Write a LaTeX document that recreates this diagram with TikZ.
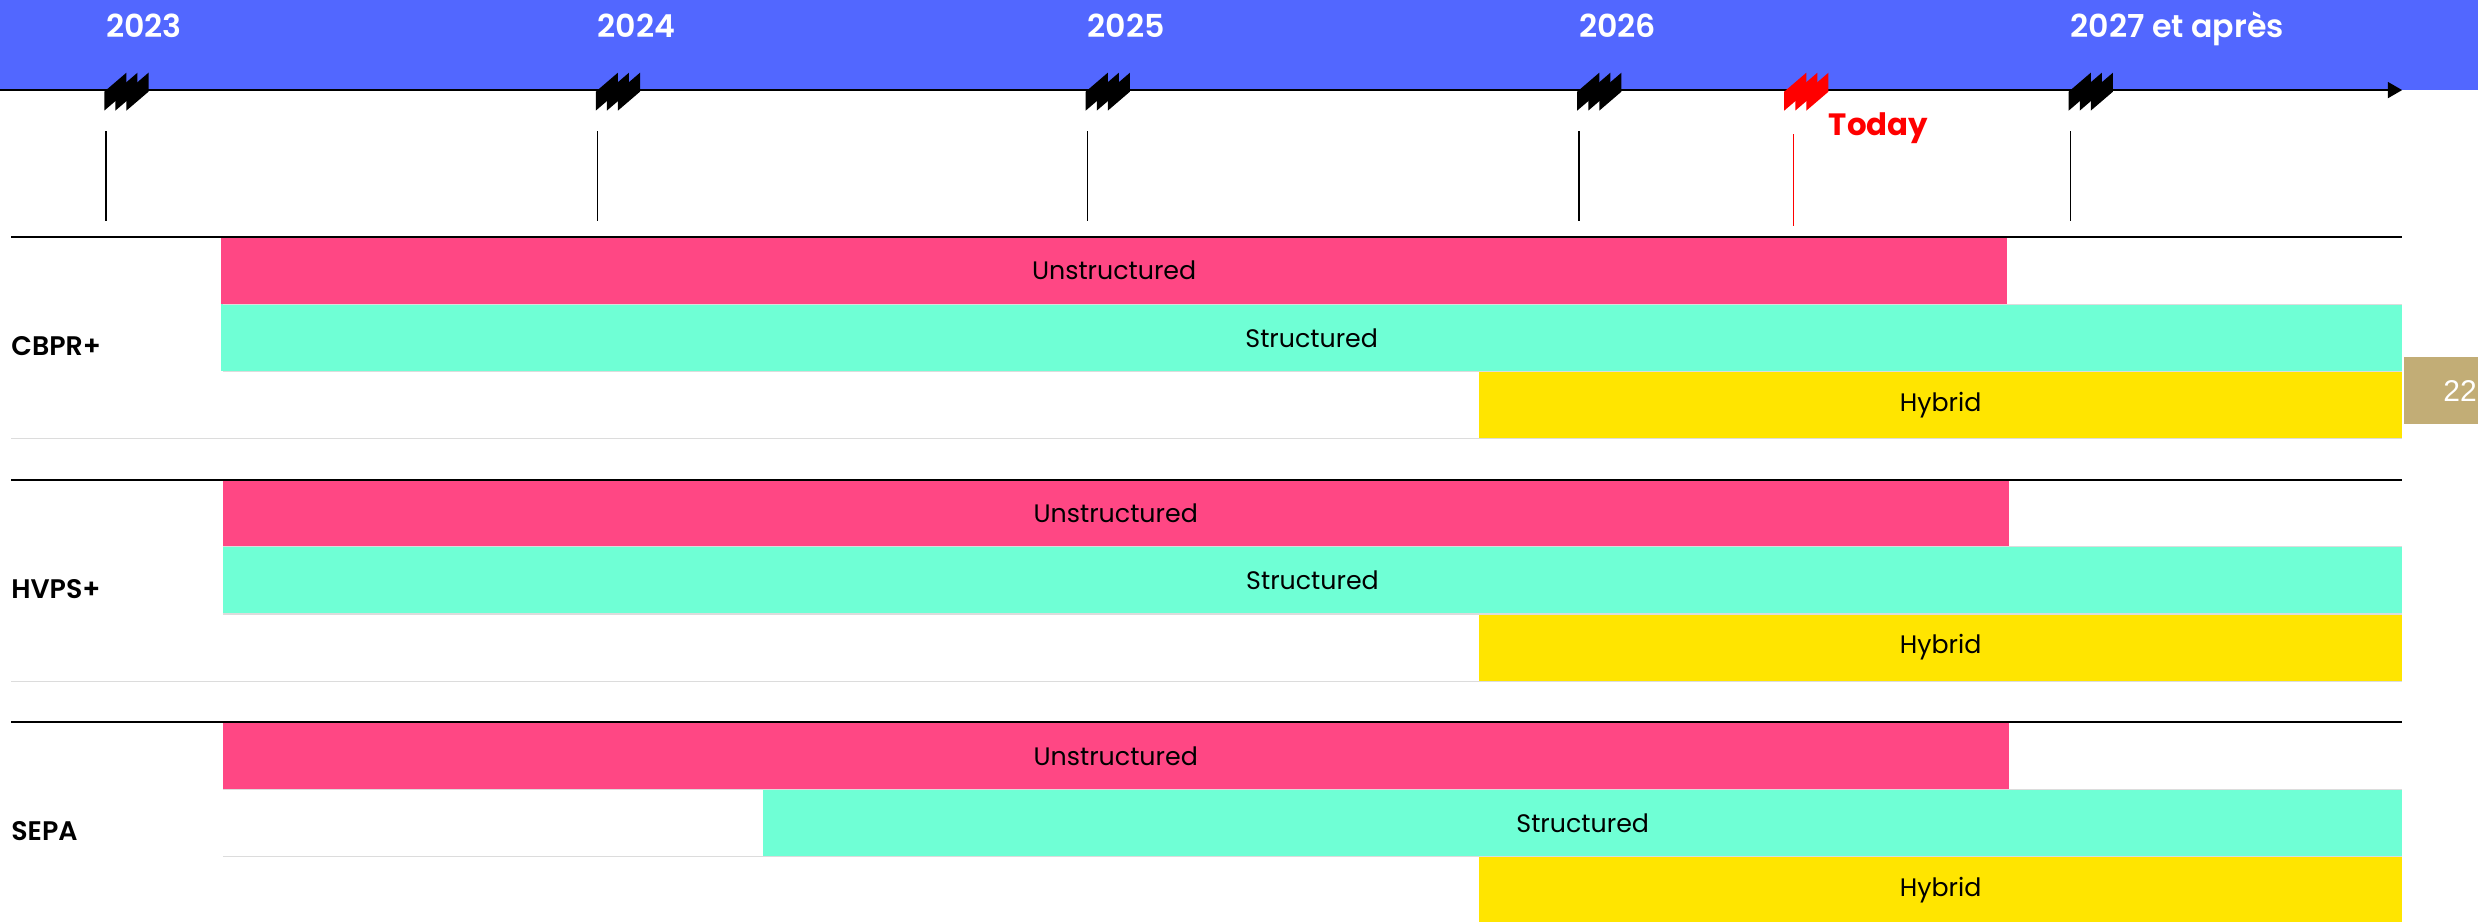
\documentclass[tikz,border=0pt]{standalone}
\usepackage{fontspec}
\setmainfont{Poppins}[BoldFont={* SemiBold}]
\newfontfamily\heavyfont{Poppins Bold}
\newfontfamily\pagefont{Liberation Sans}
\usetikzlibrary{positioning,arrows.meta}
\definecolor{bandblue}{HTML}{5267FF}
\definecolor{barpink}{HTML}{FF4784}
\definecolor{barmint}{HTML}{6FFFD5}
\definecolor{baryellow}{HTML}{FFE500}
\definecolor{pagetan}{HTML}{C2AD76}
\definecolor{rulegrey}{HTML}{DCDCDC}
\tikzset{year label/.style={text=white,font=\bfseries\fontsize{20}{24}\selectfont,anchor=base west,inner sep=0pt},
  row bar/.style={anchor=north west,inner sep=0pt,outer sep=0pt,minimum height=42.5pt,font=\fontsize{16}{19}\selectfont},
  unstr bar/.style={row bar,fill=barpink,minimum width=1130pt},
  str bar/.style={row bar,fill=barmint},
  hyb bar/.style={row bar,fill=baryellow,minimum width=584pt},
  section label/.style={anchor=base west,inner sep=0pt,font=\bfseries\fontsize{17}{20}\selectfont},
  section rule/.style={line width=1.3pt},
  row rule/.style={rulegrey,line width=0.8pt},
  page box/.style={fill=pagetan,anchor=north west,minimum width=47pt,minimum height=42pt,text width=45pt,inner xsep=1pt,align=right,text=white,font=\pagefont\fontsize{19}{21}\selectfont},
  pics/ffmark/.style={code={\foreach \k in {0,1,2}
      \fill[#1] ({7*\k},13) -- ({7*\k},1) -- ({14+7*\k},-11) -- ({14+7*\k},1) -- cycle;}},
  pics/ffmark/.default=black,
}
\begin{document}
\begin{tikzpicture}[x=1pt,y=-1pt]
        \useasboundingbox (0,0) rectangle (1568,583);
        % Band and axis
        \fill[bandblue] (0,0) rectangle (1568,57);
        \coordinate (axL) at (0,57);
        \coordinate (axR) at (1520,57);
        \draw[line width=1.3pt,-{Triangle[length=9pt,width=10pt]}] (axL) -- (axR);
        % Years
        \node[year label] (y23) at (67,24) {2023};
        \node[year label] (y24) at (378,24) {2024};
        \node[year label] (y25) at (688,24) {2025};
        \node[year label] (y26) at (999,24) {2026};
        \node[year label] (y27) at (1310,24) {2027 et après};
        \foreach \x in {67,378,688,999,1310} {
            \pic at (\x-1,57) {ffmark};
            \draw[line width=0.9pt] (\x,83) -- (\x,140);
        }
        % Today
        \coordinate (today) at (1135,57);
        \pic at (1129,57) {ffmark=red};
        \draw[red,line width=0.7pt] (1135,85) -- (1135,143);
        \node[anchor=base west,inner sep=0pt,text=red,font=\heavyfont\fontsize{19.5}{24}\selectfont,
              below right=14pt and 22pt of today] (todaylbl) {Today};
        % CBPR+
        \node[unstr bar] (cbprU) at (140,150) {Unstructured};
        \node[str bar,minimum width=1380pt] (cbprS) at (140,192.5) {Structured};
        \node[hyb bar] (cbprH) at (936,235) {Hybrid};
        \node[section label] (cbpr) at (7,225) {CBPR+};
        % HVPS+
        \node[unstr bar] (hvpsU) at (141,303.5) {Unstructured};
        \node[str bar,minimum width=1379pt] (hvpsS) at (141,346) {Structured};
        \node[hyb bar] (hvpsH) at (936,388.5) {Hybrid};
        \node[section label] (hvps) at (7,379) {HVPS+};
        % SEPA
        \node[unstr bar] (sepaU) at (141,457) {Unstructured};
        \node[str bar,minimum width=1037pt] (sepaS) at (483,499.5) {Structured};
        \node[hyb bar] (sepaH) at (936,542) {Hybrid};
        \node[section label] (sepa) at (7,532) {SEPA};
        % Rules
        \foreach \t in {150,303.5,457} {
            \draw[section rule] (7,\t) -- (1520,\t);
            \draw[row rule] (141,\t+42.5) -- (1520,\t+42.5);
            \draw[row rule] (141,\t+85) -- (1520,\t+85);
        }
        \draw[row rule] (7,277.5) -- (1520,277.5);
        \draw[row rule] (7,431) -- (1520,431);
        % Page number
        \node[page box] (pg) at (1521,226) {22};
    \end{tikzpicture}
\end{document}
